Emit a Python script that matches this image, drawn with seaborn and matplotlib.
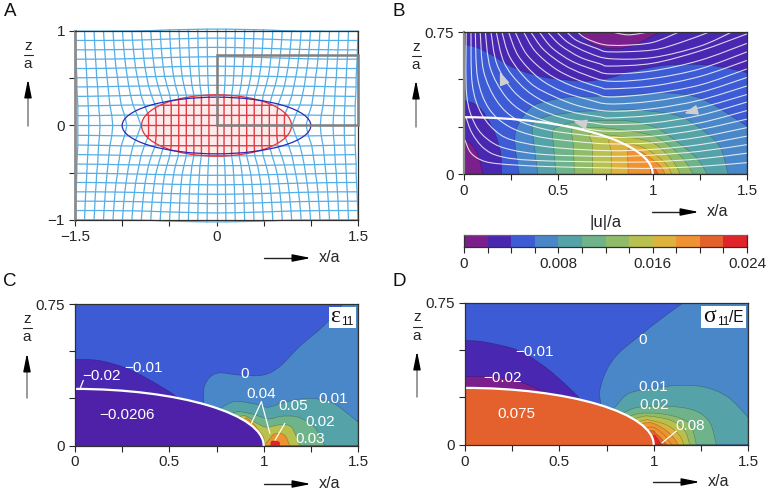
import numpy as np
import pandas as pd
import matplotlib
matplotlib.use("Agg")
import matplotlib.pyplot as plt
from matplotlib.colors import ListedColormap
from matplotlib.patches import Ellipse, PathPatch, Rectangle
from matplotlib.path import Path
import seaborn as sns

sns.set_theme(style="ticks")
plt.rcParams["font.family"] = ["Liberation Sans", "DejaVu Sans"]
plt.rcParams["axes.unicode_minus"] = True

W, H = 769, 493
INK = "#262626"
GREY = "#7f7f7f"
colours = ["#7b1f8c", "#4a27b0", "#3d5bd4", "#4a87c8", "#55a3a8", "#6fb38a",
           "#90bc6a", "#b8c04e", "#ddb33c", "#ee9232", "#e4602c", "#e2242a"]

# |u|/a colour bar
bar_values = [0.001, 0.003, 0.005, 0.007, 0.009, 0.011, 0.013, 0.015, 0.017, 0.019, 0.021, 0.023]
bar_labels = ["0", "", "", "", "0.008", "", "", "", "0.016", "", "", "", "0.024"]

# panel A: mesh nodes at spacing 0.1, displacement read per quadrant
mesh_x = [0.0, 0.1, 0.2, 0.3, 0.4, 0.5, 0.6, 0.7, 0.8, 0.9, 1.0, 1.1, 1.2, 1.3, 1.4, 1.5]
mesh_z = [0.0, 0.1, 0.2, 0.3, 0.4, 0.5, 0.6, 0.7, 0.8, 0.9, 1.0]
mesh_ux = [
    [0, -.02, -.04, -.06, -.08, -.10, -.12, -.14, -.16, -.18, -.20, -.15, -.10, -.065, -.045, -.03],
    [0, -.02, -.04, -.06, -.08, -.10, -.12, -.14, -.16, -.18, -.16, -.125, -.09, -.06, -.045, -.03],
    [0, -.02, -.04, -.06, -.08, -.10, -.12, -.14, -.15, -.135, -.115, -.09, -.07, -.05, -.04, -.03],
    [0, -.02, -.04, -.06, -.08, -.095, -.105, -.11, -.11, -.10, -.09, -.075, -.06, -.045, -.035, -.025],
    [0, -.012, -.025, -.04, -.055, -.065, -.075, -.08, -.08, -.08, -.07, -.06, -.05, -.04, -.03, -.02],
    [0, -.008, -.018, -.028, -.035, -.045, -.05, -.055, -.06, -.06, -.055, -.05, -.04, -.03, -.025, -.02],
    [0, -.005, -.012, -.018, -.024, -.03, -.035, -.04, -.042, -.042, -.04, -.035, -.03, -.025, -.02, -.015],
    [0, -.004, -.008, -.012, -.016, -.02, -.024, -.027, -.029, -.03, -.028, -.025, -.022, -.018, -.014, -.01],
    [0, -.002, -.005, -.008, -.01, -.013, -.015, -.017, -.019, -.019, -.018, -.017, -.015, -.012, -.009, -.006],
    [0, -.001, -.003, -.004, -.006, -.007, -.008, -.009, -.01, -.01, -.01, -.009, -.008, -.007, -.005, -.003],
    [0, 0, -.001, -.001, -.002, -.002, -.003, -.003, -.003, -.003, -.003, -.003, -.002, -.002, -.001, 0],
]
mesh_uz = [
    [0, 0, 0, 0, 0, 0, 0, 0, 0, 0, 0, 0, 0, 0, 0, 0],
    [.007, .007, .007, .007, .007, .007, .007, .007, .007, .007, .01, .01, .008, .006, .005, .004],
    [.014, .014, .014, .014, .014, .014, .014, .014, .015, .016, .017, .015, .012, .01, .008, .007],
    [.021, .021, .021, .021, .021, .02, .02, .02, .02, .02, .018, .015, .013, .011, .009, .008],
    [.025, .025, .025, .024, .024, .023, .022, .02, .018, .017, .016, .014, .012, .01, .009, .008],
    [.027, .027, .026, .025, .024, .022, .02, .018, .016, .014, .012, .01, .008, .007, .006, .005],
    [.028, .027, .026, .025, .024, .022, .019, .016, .013, .011, .009, .007, .005, .004, .003, .003],
    [.028, .027, .026, .024, .022, .02, .017, .014, .011, .008, .006, .004, .003, .002, .002, .002],
    [.027, .026, .025, .022, .02, .017, .014, .011, .008, .005, .004, .003, .002, .001, .001, .001],
    [.025, .024, .023, .02, .018, .015, .012, .008, .005, .003, .002, .001, 0, 0, 0, 0],
    [.02, .02, .018, .016, .014, .012, .008, .004, .002, 0, 0, 0, -.002, -.002, -.002, -.002],
]

# panel B: contour bands (outermost first) and streamlines
b_band_colour = [0, 0, 2, 3, 4, 5, 6, 7, 8, 9, 10]
b_band_x = [
    [.616, .66, .73, .819, .907, .995, 1.04],
    [0, .046, .078, .10, .10, 0, 0],
    [.2, .192, .148, .078, 0, 0, 0, 0, .069, .157, .245, .333, .44, .545, .65, .774, .897, 1.073, 1.25, 1.39, 1.5, 1.5, 1.5, 1.5],
    [.293, .271, .28, .35, .438, .562, .685, .897, 1.073, 1.215, 1.32, 1.5, 1.5, 1.5, 1.5],
    [.392, .372, .365, .438, .488, .629, .77, .897, 1.126, 1.25, 1.355, 1.40],
    [.488, .474, .47, .508, .6, .774, .897, 1.02, 1.126, 1.232, 1.29],
    [.585, .579, .57, .6, .72, .897, 1.02, 1.1, 1.17, 1.215],
    [.682, .68, .665, .72, .9, 1.0, 1.07, 1.12, 1.145],
    [.78, .78, .77, .85, .95, 1.03, 1.08, 1.10],
    [.87, .87, .9, .96, 1.02, 1.05, 1.065],
    [.99, .99, 1.01, 1.03],
]
b_band_z = [
    [.75, .70, .67, .662, .683, .727, .75],
    [.182, .149, .09, 0, 0, 0, 0],
    [0, .126, .25, .356, .39, .39, .684, .684, .667, .623, .57, .535, .508, .496, .49, .508, .543, .575, .578, .561, .535, .535, 0, 0],
    [0, .155, .243, .349, .384, .407, .41, .42, .428, .411, .367, .252, .252, 0, 0],
    [0, .155, .261, .305, .314, .331, .334, .34, .31, .243, .146, 0],
    [0, .155, .226, .254, .275, .283, .277, .243, .173, .085, 0],
    [0, .155, .226, .243, .245, .225, .195, .14, .07, 0],
    [0, .15, .21, .21, .19, .165, .11, .05, 0],
    [0, .12, .18, .165, .14, .09, .04, 0],
    [0, .13, .13, .105, .06, .03, 0],
    [0, .03, .03, 0],
]
stream_x = [
    [.005, .033, .086, .175, .421, .774, 1.0, 1.25, 1.5],
    [.009, .042, .104, .192, .369, .774, 1.0, 1.25, 1.5],
    [.012, .014, .06, .139, .245, .439, .774, 1.0, 1.25, 1.5],
    [.037, .044, .095, .192, .316, .51, .774, 1.0, 1.25, 1.5],
    [.06, .072, .13, .236, .386, .58, .774, 1.0, 1.25, 1.5],
    [.086, .104, .175, .28, .439, .615, .774, 1.0, 1.25, 1.5],
    [.113, .139, .219, .324, .483, .651, .774, 1.0, 1.25, 1.5],
    [.143, .175, .263, .377, .527, .686, .774, 1.0, 1.25, 1.5],
    [.171, .213, .307, .421, .571, .721, .774, 1.0, 1.25, 1.5],
    [.201, .245, .351, .474, .615, .774, 1.0, 1.25, 1.5],
    [.236, .289, .395, .518, .66, .774, 1.0, 1.25, 1.5],
    [.271, .333, .439, .563, .686, .774, 1.0, 1.25, 1.5],
    [.316, .377, .483, .598, .721, .774, 1.0, 1.25, 1.5],
    [.354, .421, .527, .642, .774, 1.0, 1.25, 1.5],
    [.399, .466, .571, .686, .774, 1.0, 1.25, 1.5],
    [.443, .51, .615, .721, .774, 1.0, 1.25, 1.5],
    [.492, .554, .66, .774, 1.0, 1.25, 1.42],
    [.545, .598, .704, .774, 1.0, 1.15, 1.3],
    [.601, .647, .739, .85, 1.0, 1.14],
    [.784, .872, .978],
]
stream_z = [
    [.18, .116, .076, .055, .04, .032, .03, .04, .06],
    [.305, .217, .137, .093, .072, .063, .065, .08, .11],
    [.75, .42, .26, .173, .129, .102, .093, .10, .12, .155],
    [.75, .473, .314, .208, .164, .137, .123, .13, .155, .20],
    [.75, .508, .349, .252, .199, .173, .159, .165, .195, .245],
    [.75, .543, .384, .287, .234, .208, .194, .20, .235, .29],
    [.75, .561, .411, .323, .266, .238, .226, .235, .27, .335],
    [.75, .578, .437, .353, .296, .27, .261, .27, .31, .38],
    [.75, .587, .464, .384, .328, .302, .296, .31, .35, .42],
    [.75, .614, .481, .411, .358, .332, .345, .39, .465],
    [.75, .622, .508, .437, .393, .37, .385, .43, .51],
    [.75, .631, .534, .469, .429, .407, .425, .47, .555],
    [.75, .649, .557, .499, .458, .45, .465, .515, .60],
    [.75, .658, .578, .525, .49, .505, .555, .645],
    [.75, .667, .596, .552, .529, .545, .60, .69],
    [.75, .681, .617, .582, .57, .585, .65, .74],
    [.75, .693, .64, .609, .615, .675, .75],
    [.75, .705, .663, .645, .655, .695, .75],
    [.75, .716, .684, .68, .695, .75],
    [.75, .735, .75],
]
flow_tip = [(.19, .54), (.58, .276), (1.168, .32)]
flow_tail = [(.21, .488), (.637, .264), (1.233, .338)]

# panel C: strain bands
c_band_colour = [3, 1, 4, 5, 7, 9, 9, 11]
c_band_x = [
    [.683, .688, .75, .873, .997, 1.085, 1.19, 1.323, 1.42, 1.42, 1.5, 1.5, 1.5, 1.5, .683, .683],
    [0, .132, .274, .397, .538, .56, .56, 0, 0],
    [.7, .7, .776, .847, .953, 1.023, 1.11, 1.235, 1.358, 1.447, 1.5, 1.5, 1.5, 1.5],
    [.78, .78, .847, .935, 1.023, 1.094, 1.182, 1.27, 1.323],
    [.8, .8, .88, .917, .96, 1.015, 1.085, 1.147, 1.19],
    [.9, .9, .94, .97, 1.0, 1.0],
    [1.0, 1.032, 1.059, 1.11, 1.138],
    [1.037, 1.041, 1.059, 1.082, 1.085],
]
c_band_z = [
    [.22, .32, .382, .373, .373, .418, .524, .639, .75, .75, .75, .75, 0, 0, 0, 0],
    [.457, .45, .409, .347, .258, .2, 0, 0, 0],
    [0, .15, .2, .233, .22, .203, .229, .25, .229, .168, .124, .124, 0, 0],
    [0, .12, .176, .168, .141, .155, .15, .097, 0],
    [0, .1, .155, .15, .12, .097, .109, .097, 0],
    [0, .14, .12, .085, .04, 0],
    [0, .035, .062, .056, 0],
    [0, .021, .024, .018, 0],
]
c_text = ["\u22120.01", "\u22120.02", "\u22120.0206", "0", "0.04", "0.05", "0.01", "0.02", "0.03"]
c_text_x = [.365, .141, .277, .898, .988, 1.156, 1.368, 1.302, 1.248]
c_text_z = [.409, .368, .161, .377, .273, .209, .246, .122, .034]
c_lead_x = [[.027, .044], [.988, .935], [.988, 1.033], [1.112, 1.06]]
c_lead_z = [[.302, .345], [.232, .117], [.232, .064], [.117, .028]]

# panel D: stress bands
d_band_colour = [3, 1, 0, 4, 5, 6, 7, 8, 9, 9, 10, 11]
d_band_x = [
    [.72, .715, .75, .812, .918, 1.041, 1.156, 1.156, 1.5, 1.5, 1.5, 1.5, .72, .72],
    [0, .106, .282, .424, .529, .609, .62, .62, 0, 0],
    [0, .176, .318, .406, .42, .42, 0, 0],
    [.7, .7, .794, .865, .988, 1.129, 1.27, 1.394, 1.5, 1.5, 1.5, 1.5],
    [.75, .75, .829, .917, 1.076, 1.217, 1.297, 1.332],
    [.8, .8, .882, .97, 1.094, 1.191, 1.226],
    [.8, .8, .926, .979, 1.094, 1.164, 1.191],
    [.8, .8, .944, .988, 1.076, 1.138, 1.159],
    [.8, .8, .953, 1.006, 1.067, 1.111, 1.129],
    [.8, .8, .97, 1.014, 1.059, 1.085, 1.097],
    [.8, .8, .979, 1.014, 1.05, 1.067],
    [.9, .9, .997, 1.014, 1.032, 1.041],
]
d_band_z = [
    [.216, .287, .393, .481, .57, .667, .75, .75, .75, .75, 0, 0, 0, 0],
    [.552, .543, .499, .411, .322, .242, .2, 0, 0, 0],
    [.359, .358, .322, .278, .2, 0, 0, 0],
    [0, .12, .198, .269, .296, .313, .304, .251, .145, .145, 0, 0],
    [0, .12, .162, .197, .203, .18, .118, 0],
    [0, .1, .153, .167, .153, .109, 0],
    [0, .1, .144, .15, .127, .074, 0],
    [0, .08, .127, .127, .1, .047, 0],
    [0, .08, .114, .109, .074, .03, 0],
    [0, .06, .091, .083, .047, .012, 0],
    [0, .05, .074, .056, .021, 0],
    [0, .03, .047, .039, .012, 0],
]
d_text = ["\u22120.01", "\u22120.02", "0.075", "0", "0.01", "0.02", "0.08"]
d_text_x = [.371, .198, .27, .939, .997, 1.002, 1.195]
d_text_z = [.49, .354, .163, .552, .304, .207, .097]
d_lead_x = [[1.12, 1.045]]
d_lead_z = [[.071, .009]]

FS = 11


def px_axes(fig, left, top, right, bottom):
    return fig.add_axes([left / W, 1 - bottom / H, (right - left) / W, (bottom - top) / H])


# curve through the read points, doubled points keep a corner
def smooth_path(xs, zs):
    pts = np.column_stack([xs, zs])
    verts = [pts[0]]
    codes = [Path.MOVETO]
    n = len(pts)
    for i in range(n - 1):
        prev_pt = pts[max(i - 1, 0)]
        next_pt = pts[min(i + 2, n - 1)]
        verts += [pts[i] + (pts[i + 1] - prev_pt) / 6, pts[i + 1] - (next_pt - pts[i]) / 6, pts[i + 1]]
        codes += [Path.CURVE4, Path.CURVE4, Path.CURVE4]
    return verts, codes


def draw_band(ax, xs, zs, colour):
    verts, codes = smooth_path(xs, zs)
    verts.append(verts[0])
    codes.append(Path.CLOSEPOLY)
    ax.add_patch(PathPatch(Path(verts, codes), facecolor=colour,
                           edgecolor=(0, 0, 0, 0.3), linewidth=0.4))


def draw_stream(ax, xs, zs):
    verts, codes = smooth_path(xs, zs)
    ax.add_patch(PathPatch(Path(verts, codes), facecolor="none",
                           edgecolor=(1, 1, 1, 0.8), linewidth=0.8))


def style_contour(ax):
    ax.set_xlim(0, 1.5)
    ax.set_ylim(0, 0.75)
    ax.set_xticks([0, .25, .5, .75, 1, 1.25, 1.5])
    ax.set_xticklabels(["0", "", "0.5", "", "1", "", "1.5"])
    ax.set_yticks([0, .25, .5, .75])
    ax.set_yticklabels(["0", "", "", "0.75"])
    finish_axes(ax)


def finish_axes(ax):
    ax.tick_params(length=4, width=0.8, labelsize=FS, color=INK, labelcolor=INK, pad=3.2)
    ax.set_xlabel("")
    ax.set_ylabel("")
    for s in ax.spines.values():
        s.set_visible(True)
        s.set_color("#303030")
        s.set_linewidth(0.9)


fig = plt.figure(figsize=(W / 100, H / 100), dpi=100)

# ---- A: deformed mesh
axA = px_axes(fig, 75, 31, 358, 220)
axA.set_xlim(-1.5, 1.5)
axA.set_ylim(-1, 1)
rows = []
line_id = 0
ns = len(mesh_x)
nr = len(mesh_z)
col_idx = list(range(ns - 1, 0, -1)) + list(range(ns))
col_sign = [-1] * (ns - 1) + [1] * ns
row_idx = list(range(nr - 1, 0, -1)) + list(range(nr))
row_sign = [-1] * (nr - 1) + [1] * nr
for c, sc in zip(col_idx, col_sign):
    for r, sr in zip(row_idx, row_sign):
        rows.append((line_id, sc * (mesh_x[c] + mesh_ux[r][c]), sr * (mesh_z[r] + mesh_uz[r][c])))
    line_id += 1
for r, sr in zip(row_idx, row_sign):
    for c, sc in zip(col_idx, col_sign):
        rows.append((line_id, sc * (mesh_x[c] + mesh_ux[r][c]), sr * (mesh_z[r] + mesh_uz[r][c])))
    line_id += 1
mesh = pd.DataFrame(rows, columns=["line", "x", "z"])
sns.lineplot(data=mesh, x="x", y="z", units="line", estimator=None, sort=False,
             color="#55aee6", linewidth=0.9, legend=False, ax=axA, clip_on=False, zorder=2)
inner = Ellipse((0, 0), 2 * 0.795, 2 * 0.325, facecolor="#fdecec", edgecolor="#e2333a", linewidth=0.9, zorder=3)
axA.add_patch(inner)
n_before = len(axA.lines)
sns.lineplot(data=mesh, x="x", y="z", units="line", estimator=None, sort=False,
             color="#e33a44", linewidth=1.0, legend=False, ax=axA, zorder=4)
for ln in axA.lines[n_before:]:
    ln.set_clip_path(inner)
axA.add_patch(Ellipse((0, 0), 2.0, 0.6, facecolor="none", edgecolor="#2a2ab8", linewidth=0.9, zorder=5))
axA.add_patch(Rectangle((0, 0), 1.5, 0.75, facecolor="none", edgecolor="#808080", linewidth=1.8, zorder=6, clip_on=False))
axA.set_xlim(-1.5, 1.5)
axA.set_ylim(-1, 1)
axA.set_xticks([-1.5, -1, -.5, 0, .5, 1, 1.5])
axA.set_xticklabels(["\u22121.5", "", "", "0", "", "", "1.5"])
axA.set_yticks([-1, -.5, 0, .5, 1])
axA.set_yticklabels(["\u22121", "", "0", "", "1"])
finish_axes(axA)
axA.spines["left"].set_color("#8c8c8c")
axA.spines["left"].set_linewidth(2.0)

# ---- B: displacement
axB = px_axes(fig, 464, 32, 747, 174)
axB.set_facecolor(colours[1])
for xs, zs, ci in zip(b_band_x, b_band_z, b_band_colour):
    draw_band(axB, xs, zs, colours[ci])
for xs, zs in zip(stream_x, stream_z):
    draw_stream(axB, xs, zs)
axB.add_patch(Ellipse((0, 0), 2.0, 0.6, facecolor="none", edgecolor="white", linewidth=1.6))
for tip, tail in zip(flow_tip, flow_tail):
    axB.annotate("", xy=tip, xytext=tail,
                 arrowprops=dict(arrowstyle="-|>,head_length=0.8,head_width=0.3", color="#d0d0d0",
                                 shrinkA=0, shrinkB=0, mutation_scale=10))
style_contour(axB)
axB.spines["left"].set_color("#8c8c8c")
axB.spines["left"].set_linewidth(1.6)

# ---- colour bar
axK = px_axes(fig, 464, 235, 747, 246.5)
sns.heatmap(np.array([bar_values]), cmap=ListedColormap(colours), vmin=0, vmax=0.024,
            cbar=False, xticklabels=False, yticklabels=False, ax=axK)
axK.set_xticks(range(13))
axK.set_xticklabels(bar_labels)
axK.set_yticks([])
finish_axes(axK)
axK.spines["top"].set_color("#666666")

# ---- C: strain
axC = px_axes(fig, 75, 304, 358, 445.5)
axC.set_facecolor(colours[2])
for xs, zs, ci in zip(c_band_x, c_band_z, c_band_colour):
    draw_band(axC, xs, zs, colours[ci])
axC.add_patch(Ellipse((0, 0), 2.0, 0.6, facecolor="#4f20a8", edgecolor="white", linewidth=1.6))
for lx, lz in zip(c_lead_x, c_lead_z):
    axC.plot(lx, lz, color="white", linewidth=0.9)
for t, x, z in zip(c_text, c_text_x, c_text_z):
    axC.text(x, z, t, color="white", fontsize=FS, ha="center", va="center")
style_contour(axC)

# ---- D: stress
axD = px_axes(fig, 465, 303, 748, 444.5)
axD.set_facecolor(colours[2])
for xs, zs, ci in zip(d_band_x, d_band_z, d_band_colour):
    draw_band(axD, xs, zs, colours[ci])
axD.add_patch(Ellipse((0, 0), 2.0, 0.6, facecolor=colours[10], edgecolor="white", linewidth=1.6))
for lx, lz in zip(d_lead_x, d_lead_z):
    axD.plot(lx, lz, color="white", linewidth=0.9)
for t, x, z in zip(d_text, d_text_x, d_text_z):
    axD.text(x, z, t, color="white", fontsize=FS, ha="center", va="center")
style_contour(axD)

# ---- overlay in pixel units for letters, arrows, stacked labels
ov = fig.add_axes([0, 0, 1, 1], zorder=10)
ov.set_xlim(0, W)
ov.set_ylim(H, 0)
ov.axis("off")
ov.patch.set_alpha(0)

for s, x, y in [("A", 3.5, 12), ("B", 392.5, 11.5), ("C", 2.5, 282), ("D", 392.5, 282)]:
    ov.text(x, y, s, fontsize=13.5, color="#111111", ha="left", va="center")


def z_label(x, top, bar, bottom):
    ov.text(x, top, "z", fontsize=FS, color=INK, ha="center", va="center")
    ov.plot([x - 4.5, x + 4.5], [bar, bar], color=INK, linewidth=0.8)
    ov.text(x, bottom, "a", fontsize=FS, color=INK, ha="center", va="center")


def up_arrow(x, tail, tip):
    ov.plot([x, x], [tail, tip + 8], color=GREY, linewidth=1.1)
    ov.annotate("", xy=(x, tip), xytext=(x, tip + 12),
                arrowprops=dict(arrowstyle="-|>,head_length=1.1,head_width=0.22", color="black",
                                shrinkA=0, shrinkB=0, mutation_scale=10))


def right_arrow(x0, x1, y, tx):
    ov.plot([x0, x1 - 8], [y, y], color="#222222", linewidth=1.0)
    ov.annotate("", xy=(x1, y), xytext=(x1 - 12, y),
                arrowprops=dict(arrowstyle="-|>,head_length=1.1,head_width=0.22", color="black",
                                shrinkA=0, shrinkB=0, mutation_scale=10))
    ov.text(tx, y, "x/a", fontsize=11.6, color=INK, ha="center", va="center")


z_label(28, 46, 55, 64)
up_arrow(28, 126, 79)
right_arrow(264, 311, 258, 330)
z_label(416, 47, 56, 65)
up_arrow(416, 127, 80)
right_arrow(652, 699, 212, 718)
z_label(27, 319, 328, 337)
up_arrow(27, 398, 353)
right_arrow(264, 311, 484, 330)
z_label(417, 317, 327, 336)
up_arrow(417, 397, 351)
right_arrow(653, 700, 482, 719)

ov.text(605.5, 222, "|u|/a", fontsize=12, color=INK, ha="center", va="center")

# boxed symbols on C and D
ov.add_patch(Rectangle((329, 307), 27, 21, facecolor="white", edgecolor="none"))
ov.text(335, 316, "\u03b5", family="Liberation Serif", fontsize=17, color="#111111", ha="center", va="center")
ov.text(347, 322, "11", fontsize=8.5, color="#111111", ha="center", va="center")
ov.add_patch(Rectangle((701, 305.5), 45, 22.5, facecolor="white", edgecolor="none"))
ov.text(710, 316, "\u03c3", family="Liberation Serif", fontsize=17, color="#111111", ha="center", va="center")
ov.text(723, 322, "11", fontsize=8.5, color="#111111", ha="center", va="center")
ov.text(736, 317, "/E", fontsize=11.2, color="#111111", ha="center", va="center")

fig.savefig("out.png", dpi=100)
